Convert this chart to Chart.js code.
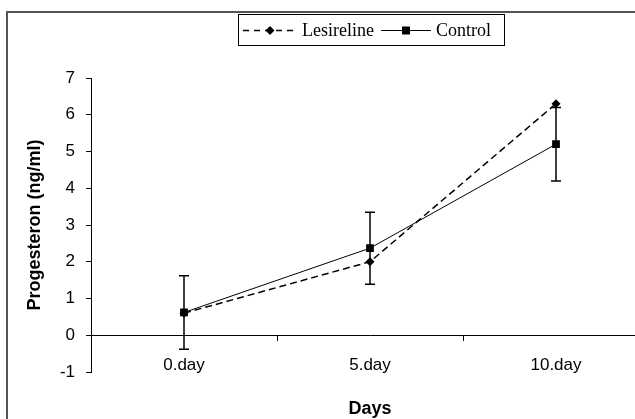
<!DOCTYPE html>
<html>
<head>
<meta charset="utf-8">
<script src="https://cdn.jsdelivr.net/npm/chart.js@4.4.1/dist/chart.umd.min.js"></script>
<style>
    html, body { margin: 0; padding: 0; background: #fff; overflow: hidden; }
    #wrap { position: relative; width: 635px; height: 419px; overflow: hidden; }
    #frame { position: absolute; left: 6px; top: 11px; width: 700px; height: 500px;
        border-left: 2px solid #555; border-top: 2px solid #555; pointer-events: none; }
    #chart { position: absolute; left: 0; top: 0; }
    #legend { position: absolute; left: 238px; top: 14px; width: 267px; height: 32px; box-sizing: border-box;
        border: 1px solid #000; display: flex; align-items: center; padding-left: 4px;
        font-family: 'Liberation Serif', 'Times New Roman', serif; font-size: 18px; color: #000; }
    #legend .item { display: flex; align-items: center; }
    #legend svg { display: block; }
    #legend .txt { margin-left: 5px; margin-right: 7px; white-space: nowrap; }
</style>
</head>
<body>
<div id="wrap">
    <canvas id="chart" width="660" height="419"></canvas>
    <div id="frame"></div>
    <div id="legend"></div>
</div>
<script>
const days = ['0.day', '5.day', '10.day'];
const lesireline = [0.6, 2.0, 6.3];
const control = [0.62, 2.37, 5.2];
const controlErr = [1.0, 0.98, 1.0];
const yTicks = [-1, 0, 1, 2, 3, 4, 5, 6, 7];

const FONT = "'Liberation Sans', Arial, sans-serif";

// error bars drawn on the Control series only
const errorBars = {
    id: 'errorBars',
    afterDatasetsDraw(chart) {
        const { ctx } = chart;
        const y = chart.scales.y;
        chart.data.datasets.forEach((ds, di) => {
            if (!ds.errors) return;
            const meta = chart.getDatasetMeta(di);
            ctx.save();
            ctx.strokeStyle = '#000';
            ctx.lineWidth = 1.5;
            meta.data.forEach((pt, i) => {
                const hi = y.getPixelForValue(ds.data[i] + ds.errors[i]);
                const lo = y.getPixelForValue(ds.data[i] - ds.errors[i]);
                ctx.beginPath();
                ctx.moveTo(pt.x, hi); ctx.lineTo(pt.x, lo);
                ctx.moveTo(pt.x - 5, hi); ctx.lineTo(pt.x + 5, hi);
                ctx.moveTo(pt.x - 5, lo); ctx.lineTo(pt.x + 5, lo);
                ctx.stroke();
            });
            ctx.restore();
        });
    }
};

const chart = new Chart(document.getElementById('chart'), {
    type: 'line',
    data: {
        labels: days,
        datasets: [
            {
                label: 'Lesireline', data: lesireline,
                borderColor: '#000', backgroundColor: '#000', borderWidth: 1.5, borderDash: [7, 4],
                pointStyle: 'rectRot', pointRadius: 4.5, pointBorderWidth: 0, tension: 0,
            },
            {
                label: 'Control', data: control, errors: controlErr,
                borderColor: '#000', backgroundColor: '#000', borderWidth: 1,
                pointStyle: 'rect', pointRadius: 5.5, pointBorderWidth: 0, tension: 0,
            },
        ],
    },
    options: {
        responsive: false,
        animation: false,
        devicePixelRatio: 1,
        layout: { padding: { left: 0, top: 78, right: 11, bottom: 47 } },
        plugins: { legend: { display: false }, tooltip: { enabled: false } },
        scales: {
            x: {
                position: { y: 0 },
                offset: true,
                grid: { offset: true, drawOnChartArea: false, drawTicks: true, tickLength: 5, color: '#000' },
                border: { display: true, color: '#000', width: 1 },
                ticks: { padding: 15, color: '#000', font: { family: FONT, size: 17 } },
                title: { display: true, text: 'Days', color: '#000', padding: { top: 8, bottom: 0 },
                    font: { family: FONT, size: 18, weight: 'bold' } },
            },
            y: {
                min: -1, max: 7,
                afterFit(scale) { scale.width = 91; },
                afterBuildTicks(scale) { scale.ticks = yTicks.map(v => ({ value: v })); },
                grid: { drawOnChartArea: false, drawTicks: true, tickLength: 5, color: '#000' },
                border: { display: true, color: '#000', width: 1 },
                ticks: { padding: 11, color: '#000', font: { family: FONT, size: 17 } },
                title: { display: true, text: 'Progesteron (ng/ml)', color: '#000', padding: { top: 24, bottom: 0 },
                    font: { family: FONT, size: 18, weight: 'bold' } },
            },
        },
    },
    plugins: [errorBars],
});

// html legend built from the datasets
function sample(ds) {
    const dash = ds.borderDash ? `stroke-dasharray="6 5"` : '';
    const w = ds.borderDash ? 54 : 50;
    const c = w / 2;
    const mark = ds.pointStyle === 'rectRot'
        ? `<polygon points="${c},6 ${c + 4.5},10.5 ${c},15 ${c - 4.5},10.5" fill="#000"/>`
        : `<rect x="${c - 4}" y="6.5" width="8" height="8" fill="#000"/>`;
    return `<svg width="${w}" height="21"><line x1="0" y1="10.5" x2="${w}" y2="10.5" stroke="#000" stroke-width="${ds.borderDash ? 1.5 : 1}" ${dash}/>${mark}</svg>`;
}
document.getElementById('legend').innerHTML = chart.data.datasets.map(ds =>
    `<div class="item">${sample(ds)}<span class="txt">${ds.label}</span></div>`).join('');
</script>
</body>
</html>
